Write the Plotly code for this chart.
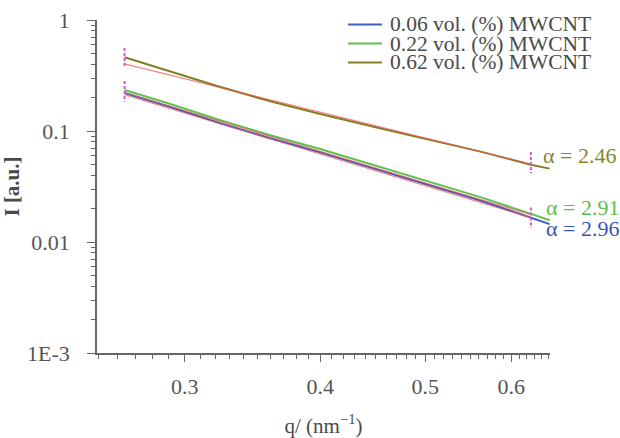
import math
import plotly.graph_objects as go

# ---- data ----
q = [0.264, 0.291, 0.323, 0.359, 0.400, 0.454, 0.505, 0.561, 0.624, 0.651]
I_006 = [0.220, 0.1645, 0.118, 0.0865, 0.0642, 0.0443, 0.0325, 0.0238, 0.0167, 0.0145]
I_022 = [0.234, 0.175, 0.1256, 0.092, 0.0688, 0.0473, 0.0345, 0.0255, 0.0181, 0.0157]
I_062 = [0.461, 0.342, 0.2506, 0.1864, 0.1423, 0.1058, 0.0830, 0.0655, 0.0500, 0.0458]

series_names = ["0.06 vol. (%) MWCNT", "0.22 vol. (%) MWCNT", "0.62 vol. (%) MWCNT"]
series_colors = ["#3f5cc0", "#5fc24c", "#7f7f25"]

# power-law fit lines (end points)
fit_q = [0.264, 0.6256]
fit_062 = [0.402, 0.0504]
fit_022 = [0.222, 0.0176]
fit_006 = [0.212, 0.0166]

# fit-range markers
mark_q = [0.264, 0.6256]
mark_top = [(0.559, 0.377), (0.0646, 0.0418)]
mark_bot = [(0.282, 0.183), (0.0205, 0.0134)]

alpha_labels = ["α = 2.46", "α = 2.91", "α = 2.96"]
alpha_colors = ["#85852c", "#5dbf4a", "#3b55b5"]

xtick_vals = [0.3, 0.4, 0.5, 0.6]
ytick_vals = [1e-3, 1e-2, 1e-1, 1]
ytick_text = ["1E-3", "0.01", "0.1", "1"]

FONT = "Liberation Serif"
TXT = "#4a4a4a"

fig = go.Figure()
for ys, name, col in zip([I_006, I_022, I_062], series_names, series_colors):
    fig.add_trace(go.Scatter(x=q, y=ys, mode="lines", name=name,
                             line=dict(color=col, width=2), showlegend=False))
for fy in [fit_062, fit_022, fit_006]:
    fig.add_trace(go.Scatter(x=fit_q, y=fy, mode="lines", showlegend=False,
                             line=dict(color="rgba(240,90,90,0.75)", width=1.2)))
for xq, (t0, t1), (b0, b1) in zip(mark_q, mark_top, mark_bot):
    for a, b in [(t0, t1), (b0, b1)]:
        fig.add_trace(go.Scatter(x=[xq, xq], y=[a, b], mode="lines", showlegend=False,
                                 line=dict(color="#e050d8", width=2, dash="3px,2px")))

# manual legend (to match the compact row spacing)
L, R, X0, W = 97, 70, 97, 453
T, B, H = 20, 85, 333
def px(xp):
    return (xp - X0) / W
def py(yp):
    return (T + H - yp) / H

rows = [24.5, 43.5, 62.5]
for yrow, name, col in zip(rows, series_names, series_colors):
    fig.add_shape(type="line", xref="paper", yref="paper",
                  x0=px(348), x1=px(382), y0=py(yrow), y1=py(yrow),
                  line=dict(color=col, width=2))
    fig.add_annotation(xref="paper", yref="paper", x=px(388), y=py(yrow),
                       xanchor="left", yanchor="middle", text=name, showarrow=False,
                       font=dict(family=FONT, size=21.5, color=TXT))

for lab, col, (xl, yl) in zip(alpha_labels, alpha_colors, [(541, 155), (544, 208), (544, 228)]):
    fig.add_annotation(xref="paper", yref="paper", x=px(xl), y=py(yl),
                       xanchor="left", yanchor="middle", text=lab, showarrow=False,
                       font=dict(family=FONT, size=22, color=col))

fig.update_xaxes(type="log", range=[math.log10(0.249), math.log10(0.6515)],
                 tickvals=xtick_vals, ticktext=[str(v) for v in xtick_vals],
                 ticks="outside", ticklen=7, tickcolor="#666", tickwidth=1.2,
                 minor=dict(ticks="outside", dtick="L0.01", ticklen=4, tickcolor="#666"),
                 showline=True, linecolor="#666", linewidth=1.5, showgrid=False, zeroline=False,
                 tickfont=dict(family=FONT, size=22, color="#555"), ticklabelstandoff=6,
                 automargin=False,
                 title=dict(text="q/ (nm<sup>−1</sup>)", font=dict(family=FONT, size=21, color=TXT), standoff=26))
fig.update_yaxes(type="log", range=[-3, 0], tickvals=ytick_vals, ticktext=ytick_text,
                 ticks="outside", ticklen=8, tickcolor="#666", tickwidth=1.2,
                 minor=dict(ticks="outside", dtick="D1", ticklen=4, tickcolor="#666"),
                 showline=True, linecolor="#666", linewidth=1.5, showgrid=False, zeroline=False,
                 tickfont=dict(family=FONT, size=22, color="#555"), ticklabelstandoff=13,
                 automargin=False,
                 title=dict(text="<b>I [a.u.]</b>", font=dict(family=FONT, size=21, color=TXT), standoff=8))

fig.update_layout(width=620, height=438, margin=dict(l=L, r=R, t=T, b=B, autoexpand=False),
                  plot_bgcolor="white", paper_bgcolor="white", showlegend=False,
                  font=dict(family=FONT))
fig.write_html("out.html")
